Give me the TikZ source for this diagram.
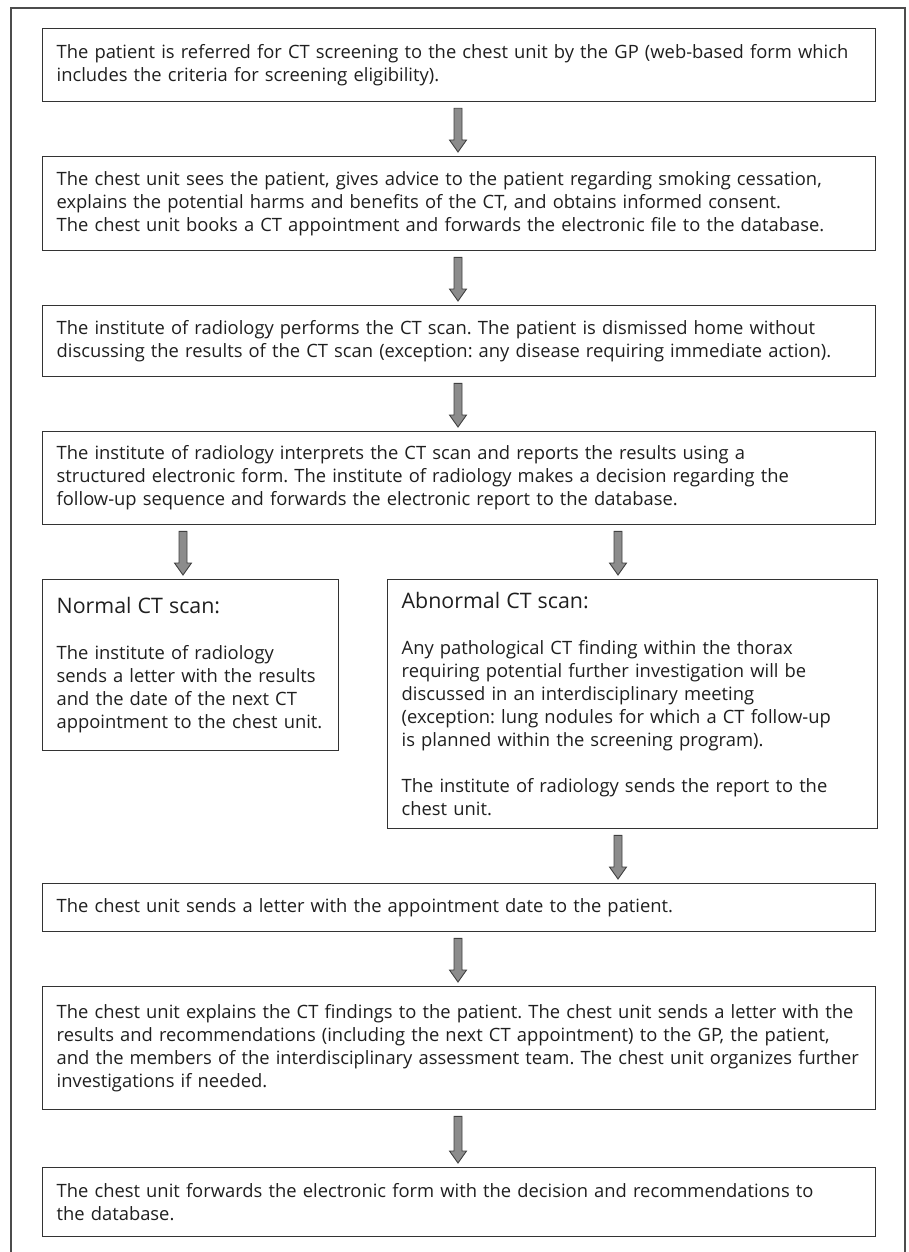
\documentclass[tikz,border=0pt]{standalone}
\usepackage{fontspec}
\setmainfont{Open Sans}
\usetikzlibrary{calc}
\newlength\Wa \newlength\Wb \newlength\Wc \newlength\Wd
\newlength\We \newlength\Wf \newlength\Wg \newlength\Wh
\newlength\Tw
\newcommand\msr{\frenchspacing\fontsize{10}{12}\selectfont}
\newcommand\ml[1]{\mbox{#1}}
\newcommand\blockarr[3]{%
 \draw[blockarrow] ($(#1.south -| #3)+(-4,6)$) -- ($(#1.south -| #3)+(4,6)$)
   -- ($(#2.north -| #3)+(4,-16)$) -- ($(#2.north -| #3)+(8.5,-16)$)
   -- ($(#2.north -| #3)+(0,-4)$) -- ($(#2.north -| #3)+(-8.5,-16)$)
   -- ($(#2.north -| #3)+(-4,-16)$) -- cycle;}
\newcommand\ttlfont{\fontsize{\tsz}{23}\selectfont}
\begin{document}
\frenchspacing
\settowidth\Wa{\msr The patient is referred for CT screening to the chest unit by the GP (web-based form which}%
\settowidth\Wb{\msr The chest unit sees the patient, gives advice to the patient regarding smoking cessation,}%
\settowidth\Wc{\msr The chest unit books a CT appointment and forwards the electronic file to the database.}%
\settowidth\Wd{\msr The institute of radiology performs the CT scan. The patient is dismissed home without}%
\settowidth\We{\msr discussing the results of the CT scan (exception: any disease requiring immediate action).}%
\settowidth\Wf{\msr The chest unit explains the CT findings to the patient. The chest unit sends a letter with the}%
\settowidth\Wg{\msr results and recommendations (including the next CT appointment) to the GP, the patient,}%
\settowidth\Wh{\msr and the members of the interdisciplinary assessment team. The chest unit organizes further}%
\settowidth\Tw{\msr Abnormal CT scan:}%
\pgfmathsetmacro\fsz{10*786/max(\Wa,\Wb,\Wc,\Wd,\We,\Wf,\Wg,\Wh)}%
\pgfmathsetmacro\tsz{10*186/\Tw}%
\begin{tikzpicture}[x=1pt,y=-1pt,
  box/.style={draw=black!80, line width=1.3pt, rectangle, anchor=north west,
    align=left, inner xsep=14pt, inner ysep=0pt, text=black!88,
    font=\frenchspacing\fontsize{\fsz}{23}\selectfont},
  wide/.style={text width=805pt, minimum width=833pt},
  blockarrow/.style={draw=black!75, fill=black!45, line width=0.9pt, line join=miter}]
\useasboundingbox (0,0) rectangle (909,1252);
\draw[black!70, line width=1.2pt] (11,8) rectangle (905,1275);
\coordinate (xm) at (458,0);
\coordinate (xl) at (183,0);
\coordinate (xr) at (618,0);

\node[box, wide, minimum height=73pt] (b1) at (42,28)
 {\ml{The patient is referred for CT screening to the chest unit by the GP (web-based form which}\\
  \ml{includes the criteria for screening eligibility).}};
\node[box, wide, minimum height=94pt] (b2) at (42,156)
 {\ml{The chest unit sees the patient, gives advice to the patient regarding smoking cessation,}\\
  \ml{explains the potential harms and benefits of the CT, and obtains informed consent.}\\
  \ml{The chest unit books a CT appointment and forwards the electronic file to the database.}};
\node[box, wide, minimum height=71pt] (b3) at (42,305)
 {\ml{The institute of radiology performs the CT scan. The patient is dismissed home without}\\
  \ml{discussing the results of the CT scan (exception: any disease requiring immediate action).}};
\node[box, wide, minimum height=93pt] (b4) at (42,431)
 {\ml{The institute of radiology interprets the CT scan and reports the results using a}\\
  \ml{structured electronic form. The institute of radiology makes a decision regarding the}\\
  \ml{follow-up sequence and forwards the electronic report to the database.}};
\node[box, text width=268pt, minimum width=296pt, minimum height=171pt] (nrm) at (42,579)
 {{\ttlfont Normal CT scan:}\\[23pt]
  \ml{The institute of radiology}\\
  \ml{sends a letter with the results}\\
  \ml{and the date of the next CT}\\
  \ml{appointment to the chest unit.}};
\node[box, text width=462pt, minimum width=490pt, minimum height=249pt] (abn) at (387,579)
 {{\ttlfont Abnormal CT scan:}\\[23pt]
  \ml{Any pathological CT finding within the thorax}\\
  \ml{requiring potential further investigation will be}\\
  \ml{discussed in an interdisciplinary meeting}\\
  \ml{(exception: lung nodules for which a CT follow-up}\\
  \ml{is planned within the screening program).}\\[23pt]
  \ml{The institute of radiology sends the report to the}\\
  \ml{chest unit.}};
\node[box, wide, minimum height=48pt] (b5) at (42,883)
 {\ml{The chest unit sends a letter with the appointment date to the patient.}};
\node[box, wide, minimum height=123pt] (b6) at (42,986)
 {\ml{The chest unit explains the CT findings to the patient. The chest unit sends a letter with the}\\
  \ml{results and recommendations (including the next CT appointment) to the GP, the patient,}\\
  \ml{and the members of the interdisciplinary assessment team. The chest unit organizes further}\\
  \ml{investigations if needed.}};
\node[box, wide, minimum height=69pt] (b7) at (42,1167)
 {\ml{The chest unit forwards the electronic form with the decision and recommendations to}\\
  \ml{the database.}};

\blockarr{b1}{b2}{xm}
\blockarr{b2}{b3}{xm}
\blockarr{b3}{b4}{xm}
\blockarr{b4}{nrm}{xl}
\blockarr{b4}{abn}{xr}
\blockarr{abn}{b5}{xr}
\blockarr{b5}{b6}{xm}
\blockarr{b6}{b7}{xm}
\end{tikzpicture}
\end{document}
